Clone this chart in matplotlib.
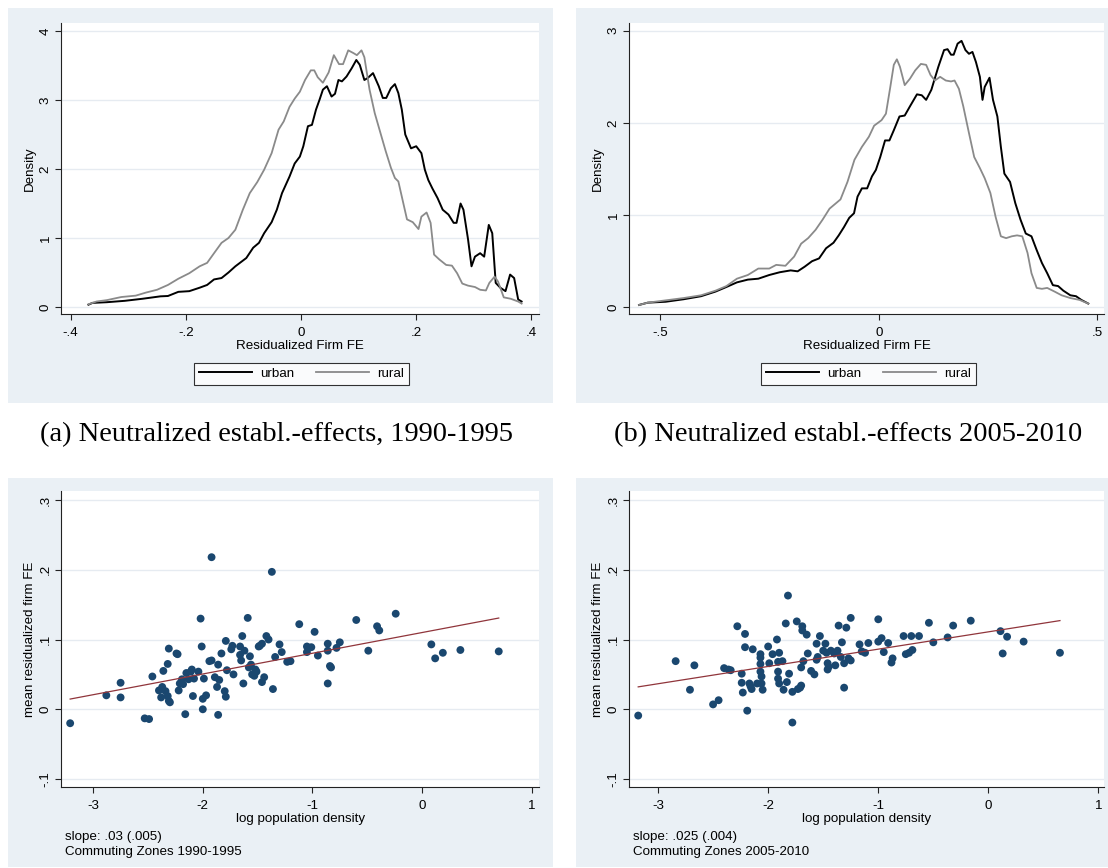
import numpy as np
import matplotlib.pyplot as plt
from matplotlib.patches import Rectangle
from matplotlib.lines import Line2D

W, H = 1108, 868
BG = "#EAF0F5"
GRID = "#E6EBF1"
NAVY = "#1A476F"
MAROON = "#90353B"
GRAY = "#8A8A8A"
FS = 9.6

# ------------------------------------------------------------
# Kernel densities, 1990-1995
# ------------------------------------------------------------
tl_urban_x = [-0.369, -0.362, -0.337, -0.306, -0.275, -0.244, -0.231, -0.213, -0.194, -0.176,
              -0.163, -0.151, -0.138, -0.126, -0.114, -0.095, -0.083, -0.073, -0.064, -0.051,
              -0.042, -0.033, -0.020, -0.011, -0.002, 0.004, 0.012, 0.019, 0.026, 0.032,
              0.038, 0.045, 0.053, 0.059, 0.065, 0.071, 0.079, 0.088, 0.096, 0.102,
              0.110, 0.116, 0.125, 0.135, 0.142, 0.148, 0.156, 0.163, 0.169, 0.175,
              0.181, 0.191, 0.200, 0.209, 0.215, 0.221, 0.228, 0.237, 0.246, 0.256,
              0.265, 0.270, 0.277, 0.282, 0.290, 0.296, 0.302, 0.311, 0.318, 0.326,
              0.332, 0.338, 0.346, 0.355, 0.363, 0.370, 0.377, 0.383]
tl_urban_y = [0.034, 0.06, 0.07, 0.09, 0.12, 0.155, 0.16, 0.22, 0.23, 0.28,
              0.32, 0.40, 0.42, 0.50, 0.59, 0.71, 0.86, 0.93, 1.07, 1.23,
              1.41, 1.65, 1.89, 2.08, 2.18, 2.33, 2.62, 2.64, 2.86, 3.00,
              3.15, 3.20, 3.05, 3.09, 3.29, 3.27, 3.34, 3.46, 3.58, 3.51,
              3.29, 3.32, 3.39, 3.20, 3.03, 3.03, 3.17, 3.23, 3.10, 2.86,
              2.50, 2.30, 2.33, 2.23, 1.99, 1.84, 1.72, 1.58, 1.41, 1.34,
              1.22, 1.22, 1.50, 1.41, 0.98, 0.59, 0.73, 0.78, 0.73, 1.19,
              1.07, 0.35, 0.28, 0.23, 0.47, 0.42, 0.11, 0.08]

tl_rural_x = [-0.369, -0.355, -0.337, -0.312, -0.287, -0.269, -0.250, -0.231, -0.213, -0.194,
              -0.176, -0.163, -0.151, -0.138, -0.126, -0.114, -0.101, -0.089, -0.076, -0.064,
              -0.051, -0.039, -0.030, -0.020, -0.011, -0.002, 0.007, 0.017, 0.023, 0.029,
              0.038, 0.048, 0.057, 0.066, 0.073, 0.082, 0.091, 0.097, 0.105, 0.110,
              0.119, 0.128, 0.138, 0.147, 0.156, 0.163, 0.169, 0.175, 0.184, 0.194,
              0.204, 0.209, 0.218, 0.225, 0.231, 0.240, 0.252, 0.262, 0.271, 0.280,
              0.290, 0.302, 0.311, 0.321, 0.327, 0.336, 0.342, 0.352, 0.364, 0.377,
              0.383]
tl_rural_y = [0.04, 0.08, 0.10, 0.145, 0.165, 0.21, 0.25, 0.32, 0.41, 0.49,
              0.59, 0.64, 0.78, 0.93, 1.00, 1.12, 1.41, 1.65, 1.81, 1.99,
              2.23, 2.57, 2.69, 2.90, 3.02, 3.12, 3.29, 3.43, 3.43, 3.33,
              3.25, 3.40, 3.65, 3.52, 3.52, 3.72, 3.68, 3.65, 3.72, 3.62,
              3.15, 2.81, 2.52, 2.26, 2.02, 1.87, 1.82, 1.60, 1.27, 1.23,
              1.13, 1.31, 1.37, 1.22, 0.76, 0.69, 0.61, 0.60, 0.49, 0.34,
              0.31, 0.29, 0.25, 0.24, 0.35, 0.44, 0.37, 0.14, 0.12, 0.08,
              0.05]

# ------------------------------------------------------------
# Kernel densities, 2005-2010
# ------------------------------------------------------------
tr_urban_x = [-0.549, -0.529, -0.488, -0.447, -0.407, -0.374, -0.349, -0.325, -0.300, -0.276,
              -0.251, -0.227, -0.202, -0.186, -0.170, -0.153, -0.137, -0.121, -0.104, -0.092,
              -0.080, -0.068, -0.057, -0.049, -0.039, -0.027, -0.016, -0.007, 0.003, 0.014,
              0.024, 0.034, 0.047, 0.059, 0.071, 0.087, 0.098, 0.108, 0.120, 0.136,
              0.149, 0.157, 0.165, 0.171, 0.180, 0.189, 0.198, 0.206, 0.214, 0.222,
              0.231, 0.237, 0.242, 0.253, 0.261, 0.271, 0.279, 0.287, 0.300, 0.312,
              0.324, 0.336, 0.349, 0.361, 0.373, 0.385, 0.398, 0.410, 0.422, 0.438,
              0.451, 0.463, 0.479]
tr_urban_y = [0.025, 0.05, 0.06, 0.087, 0.12, 0.17, 0.22, 0.27, 0.30, 0.31,
              0.35, 0.38, 0.40, 0.39, 0.44, 0.50, 0.53, 0.64, 0.70, 0.78,
              0.87, 0.97, 1.02, 1.20, 1.29, 1.29, 1.42, 1.49, 1.63, 1.81,
              1.81, 1.92, 2.07, 2.08, 2.18, 2.31, 2.30, 2.25, 2.36, 2.61,
              2.79, 2.80, 2.74, 2.74, 2.86, 2.89, 2.79, 2.75, 2.77, 2.66,
              2.50, 2.25, 2.39, 2.49, 2.25, 2.07, 1.74, 1.45, 1.36, 1.13,
              0.95, 0.80, 0.77, 0.62, 0.48, 0.37, 0.24, 0.23, 0.18, 0.13,
              0.12, 0.08, 0.04]

tr_rural_x = [-0.549, -0.529, -0.447, -0.407, -0.374, -0.349, -0.325, -0.300, -0.276, -0.251,
              -0.235, -0.214, -0.194, -0.178, -0.162, -0.145, -0.129, -0.113, -0.088, -0.072,
              -0.056, -0.039, -0.023, -0.011, 0.006, 0.016, 0.026, 0.034, 0.041, 0.048,
              0.059, 0.071, 0.083, 0.096, 0.108, 0.118, 0.128, 0.140, 0.153, 0.165,
              0.173, 0.183, 0.193, 0.206, 0.218, 0.231, 0.242, 0.255, 0.267, 0.279,
              0.291, 0.304, 0.316, 0.328, 0.340, 0.349, 0.361, 0.373, 0.385, 0.402,
              0.418, 0.438, 0.459, 0.479]
tr_rural_y = [0.025, 0.05, 0.10, 0.13, 0.18, 0.23, 0.31, 0.35, 0.42, 0.42,
              0.46, 0.45, 0.55, 0.69, 0.75, 0.84, 0.95, 1.07, 1.17, 1.36,
              1.60, 1.74, 1.85, 1.97, 2.03, 2.10, 2.39, 2.63, 2.69, 2.61,
              2.41, 2.48, 2.57, 2.64, 2.63, 2.52, 2.46, 2.50, 2.46, 2.45,
              2.46, 2.37, 2.18, 1.89, 1.63, 1.51, 1.40, 1.24, 0.98, 0.77,
              0.75, 0.77, 0.78, 0.77, 0.59, 0.37, 0.21, 0.20, 0.21, 0.17,
              0.13, 0.10, 0.08, 0.04]

# ------------------------------------------------------------
# Commuting zones: log density vs. mean residualized firm FE
# ------------------------------------------------------------
bl_x = [-3.21, -2.88, -2.75, -2.75, -2.53, -2.49, -2.46, -2.40, -2.38, -2.37,
        -2.36, -2.34, -2.32, -2.32, -2.31, -2.30, -2.31, -2.24, -2.23, -2.22,
        -2.21, -2.19, -2.18, -2.16, -2.15, -2.11, -2.10, -2.13, -2.09, -2.08,
        -2.04, -2.02, -2.01, -2.00, -2.00, -1.99, -1.97, -1.94, -1.92, -1.92,
        -1.89, -1.87, -1.86, -1.86, -1.85, -1.83, -1.80, -1.79, -1.79, -1.78,
        -1.74, -1.73, -1.72, -1.66, -1.66, -1.65, -1.64, -1.63, -1.62, -1.59,
        -1.58, -1.57, -1.56, -1.55, -1.53, -1.52, -1.51, -1.49, -1.48, -1.46,
        -1.46, -1.44, -1.42, -1.40, -1.37, -1.36, -1.34, -1.30, -1.28, -1.23,
        -1.20, -1.12, -1.05, -1.05, -1.01, -0.98, -0.95, -0.86, -0.86, -0.86,
        -0.84, -0.83, -0.78, -0.75, -0.60, -0.49, -0.41, -0.39, -0.24, 0.085,
        0.12, 0.19, 0.35, 0.70]
bl_y = [-0.020, 0.020, 0.017, 0.038, -0.013, -0.014, 0.047, 0.027, 0.017, 0.032,
        0.055, 0.026, 0.065, 0.019, 0.012, 0.010, 0.087, 0.080, 0.079, 0.027,
        0.037, 0.043, 0.036, -0.007, 0.052, 0.054, 0.057, 0.043, 0.019, 0.044,
        0.054, 0.130, 0.090, 0.015, 0.000, 0.044, 0.020, 0.069, 0.070, 0.218,
        0.046, 0.032, 0.064, -0.008, 0.042, 0.080, 0.026, 0.018, 0.098, 0.056,
        0.086, 0.091, 0.050, 0.090, 0.078, 0.070, 0.105, 0.037, 0.084, 0.131,
        0.060, 0.076, 0.064, 0.050, 0.048, 0.057, 0.054, 0.090, 0.091, 0.094,
        0.039, 0.046, 0.105, 0.100, 0.197, 0.029, 0.075, 0.093, 0.082, 0.068,
        0.069, 0.122, 0.082, 0.090, 0.089, 0.111, 0.077, 0.094, 0.084, 0.037,
        0.062, 0.060, 0.088, 0.096, 0.128, 0.084, 0.119, 0.113, 0.137, 0.093,
        0.073, 0.081, 0.085, 0.083]
bl_fit = (0.110, 0.0297)  # intercept, slope

br_x = [-3.18, -2.84, -2.71, -2.67, -2.50, -2.45, -2.40, -2.36, -2.34, -2.28,
        -2.24, -2.24, -2.23, -2.21, -2.21, -2.19, -2.17, -2.16, -2.15, -2.14,
        -2.10, -2.07, -2.07, -2.07, -2.07, -2.06, -2.06, -2.05, -2.00, -1.99,
        -1.96, -1.92, -1.91, -1.91, -1.91, -1.90, -1.90, -1.87, -1.86, -1.84,
        -1.82, -1.83, -1.81, -1.78, -1.78, -1.74, -1.73, -1.71, -1.70, -1.70,
        -1.69, -1.69, -1.68, -1.65, -1.64, -1.61, -1.58, -1.56, -1.56, -1.55,
        -1.53, -1.50, -1.48, -1.47, -1.46, -1.46, -1.45, -1.43, -1.40, -1.39,
        -1.37, -1.36, -1.34, -1.33, -1.31, -1.31, -1.29, -1.27, -1.25, -1.25,
        -1.17, -1.15, -1.12, -1.09, -1.00, -1.00, -0.97, -0.95, -0.91, -0.88,
        -0.87, -0.77, -0.75, -0.72, -0.69, -0.70, -0.63, -0.54, -0.50, -0.37,
        -0.32, -0.16, 0.11, 0.13, 0.17, 0.32, 0.65]
br_y = [-0.009, 0.069, 0.028, 0.063, 0.007, 0.013, 0.059, 0.057, 0.056, 0.119,
        0.051, 0.038, 0.024, 0.108, 0.089, -0.002, 0.037, 0.033, 0.029, 0.086,
        0.037, 0.079, 0.074, 0.065, 0.054, 0.047, 0.037, 0.028, 0.090, 0.066,
        0.079, 0.100, 0.068, 0.054, 0.044, 0.037, 0.081, 0.069, 0.028, 0.123,
        0.163, 0.039, 0.051, 0.025, -0.019, 0.126, 0.029, 0.031, 0.060, 0.034,
        0.119, 0.113, 0.069, 0.107, 0.080, 0.055, 0.050, 0.094, 0.071, 0.075,
        0.105, 0.084, 0.094, 0.081, 0.066, 0.057, 0.061, 0.084, 0.080, 0.063,
        0.084, 0.120, 0.075, 0.096, 0.066, 0.031, 0.117, 0.073, 0.131, 0.070,
        0.093, 0.083, 0.081, 0.095, 0.129, 0.097, 0.102, 0.082, 0.095, 0.067,
        0.073, 0.105, 0.079, 0.081, 0.085, 0.105, 0.105, 0.124, 0.096, 0.103,
        0.120, 0.127, 0.112, 0.080, 0.104, 0.097, 0.081]
br_fit = (0.111, 0.0248)

plt.rcParams["font.family"] = ["Liberation Sans", "DejaVu Sans"]


def fx(px):
    return px / W


def fy(py):
    return 1 - py / H


def add_axes(fig, l, t, r, b):
    return fig.add_axes([fx(l), fy(b), fx(r) - fx(l), fy(t) - fy(b)])


def style_axes(ax, xlim, ylim, xticks, xlabels, yticks, ylabels, xlabel, ylabel):
    ax.set_xlim(*xlim)
    ax.set_ylim(*ylim)
    ax.set_xticks(xticks)
    ax.set_xticklabels(xlabels)
    ax.set_yticks(yticks)
    ax.set_yticklabels(ylabels, rotation=90, va="center")
    for s in ("top", "right"):
        ax.spines[s].set_visible(False)
    for s in ("left", "bottom"):
        ax.spines[s].set_color("#222222")
        ax.spines[s].set_linewidth(0.8)
    ax.tick_params(length=4, width=0.8, color="#222222", labelsize=FS)
    ax.tick_params(axis="x", pad=5.5)
    ax.tick_params(axis="y", pad=3)
    ax.yaxis.grid(True, color=GRID, linewidth=1.0)
    ax.set_axisbelow(True)
    ax.set_xlabel(xlabel, fontsize=FS, labelpad=0.5)
    ax.set_ylabel(ylabel, fontsize=FS, labelpad=3)


fig = plt.figure(figsize=(W / 100, H / 100), dpi=100)

# light panel backgrounds behind each graph
for (l, t, r, b) in [(8, 8, 553, 403), (576, 8, 1108, 403),
                     (8, 478, 553, 867), (576, 478, 1108, 867)]:
    fig.patches.append(Rectangle((fx(l), fy(b)), fx(r) - fx(l), fy(t) - fy(b),
                                 transform=fig.transFigure, facecolor=BG,
                                 edgecolor="none", zorder=-10))

# (a) densities 1990-1995
ax_a = add_axes(fig, 61.4, 23, 539.3, 314)
ax_a.plot(tl_urban_x, tl_urban_y, color="black", lw=1.4)
ax_a.plot(tl_rural_x, tl_rural_y, color=GRAY, lw=1.3)
style_axes(ax_a, (-0.416, 0.4137), (-0.101, 4.116),
           [-0.4, -0.2, 0, 0.2, 0.4], ["-.4", "-.2", "0", ".2", ".4"],
           [0, 1, 2, 3, 4], ["0", "1", "2", "3", "4"],
           "Residualized Firm FE", "Density")

# (b) densities 2005-2010
ax_b = add_axes(fig, 629.4, 23, 1104, 314)
ax_b.plot(tr_urban_x, tr_urban_y, color="black", lw=1.4)
ax_b.plot(tr_rural_x, tr_rural_y, color=GRAY, lw=1.3)
style_axes(ax_b, (-0.571, 0.515), (-0.073, 3.084),
           [-0.5, 0, 0.5], ["-.5", "0", ".5"],
           [0, 1, 2, 3], ["0", "1", "2", "3"],
           "Residualized Firm FE", "Density")

# legends under the density plots
handles = [Line2D([], [], color="black", lw=1.4), Line2D([], [], color=GRAY, lw=1.3)]
for cx in (301.5, 868.5):
    leg = fig.legend(handles, ["urban", "rural"], loc="center",
                     bbox_to_anchor=(fx(cx), fy(374)), ncol=2, fontsize=FS,
                     frameon=True, fancybox=False, handlelength=4.0,
                     columnspacing=1.6, handletextpad=0.6, borderpad=0.35)
    leg.get_frame().set_edgecolor("black")
    leg.get_frame().set_linewidth(0.8)

# scatter panels
ylabels_sc = ["-.1", "0", ".1", ".2", ".3"]
for (l, r, xs, ys, fit, xlim, note) in [
        (61.4, 539.3, bl_x, bl_y, bl_fit, (-3.29, 1.07),
         "slope: .03 (.005)\nCommuting Zones 1990-1995"),
        (629.4, 1104, br_x, br_y, br_fit, (-3.26, 1.05),
         "slope: .025 (.004)\nCommuting Zones 2005-2010")]:
    ax = add_axes(fig, l, 491, r, 787)
    ax.scatter(xs, ys, s=32, color=NAVY, edgecolors="none", zorder=3)
    xf = np.array([min(xs), max(xs)])
    ax.plot(xf, fit[0] + fit[1] * xf, color=MAROON, lw=0.9, zorder=4)
    style_axes(ax, xlim, (-0.1114, 0.3129),
               [-3, -2, -1, 0, 1], ["-3", "-2", "-1", "0", "1"],
               [-0.1, 0, 0.1, 0.2, 0.3], ylabels_sc,
               "log population density", "mean residualized firm FE")
    fig.text(fx(l + 4), fy(831), note, fontsize=FS, ha="left", va="top",
             linespacing=1.3)

# sub-captions
cap_font = dict(family=["Liberation Serif", "DejaVu Serif"], fontsize=20.5,
                ha="center", va="center")
fig.text(fx(277), fy(435), "(a) Neutralized establ.-effects, 1990-1995", **cap_font)
fig.text(fx(848), fy(435), "(b) Neutralized establ.-effects 2005-2010", **cap_font)

fig.savefig("out.png", dpi=100)
